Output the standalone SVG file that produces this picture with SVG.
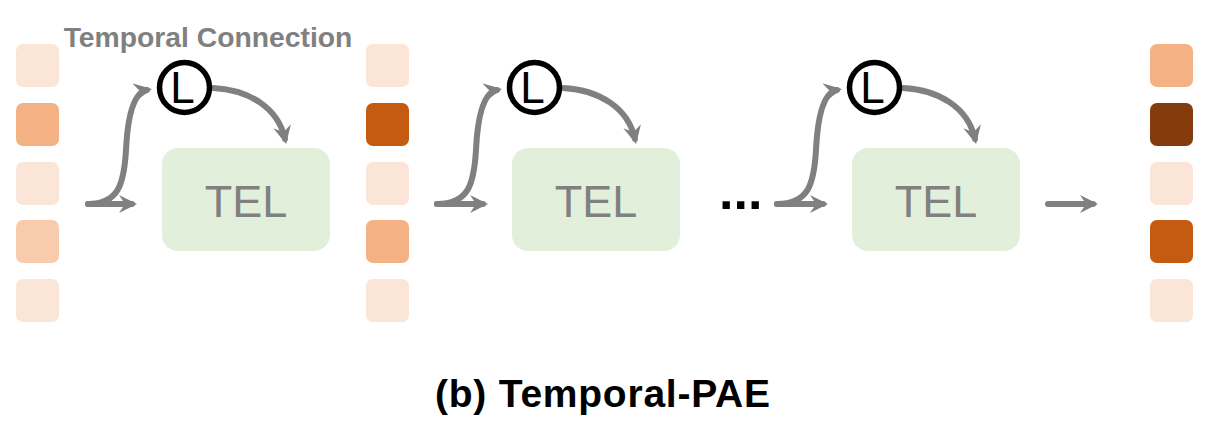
<svg xmlns="http://www.w3.org/2000/svg" width="1208" height="438" viewBox="0 0 1208 438">
<style>
.sq{stroke:none}
.c0{fill:#FBE5D6}.c1{fill:#F8CBAD}.c2{fill:#F4B183}.c3{fill:#C55A11}.c4{fill:#843C0C}
.tel{fill:#E2EFDA}
.tt{font-family:"Liberation Sans",Arial,sans-serif;font-size:45px;fill:#808080;text-anchor:middle}
.ring{fill:#fff;stroke:#000;stroke-width:5.5}
.lt{font-family:"Liberation Sans",Arial,sans-serif;font-size:44px;fill:#000;text-anchor:middle}
.ln{fill:none;stroke:#808080;stroke-width:6;stroke-linecap:round}
</style>
<defs>
<marker id="ah" viewBox="0 0 18 18" refX="13" refY="9" markerWidth="18" markerHeight="18" orient="auto" markerUnits="userSpaceOnUse">
<path d="M0,0 L18,9 L0,18 L6,9 z" fill="#808080"/>
</marker>
</defs>
<rect width="1208" height="438" fill="#fff"/>
<text x="208" y="47" font-family="Liberation Sans,Arial,sans-serif" font-weight="bold" font-size="28.3" fill="#808080" text-anchor="middle">Temporal Connection</text>
<g id="col0">
<rect class="sq c0" x="16" y="44" width="43" height="43" rx="7"/>
<rect class="sq c2" x="16" y="103" width="43" height="43" rx="7"/>
<rect class="sq c0" x="16" y="162" width="43" height="43" rx="7"/>
<rect class="sq c1" x="16" y="220" width="43" height="43" rx="7"/>
<rect class="sq c0" x="16" y="279" width="43" height="43" rx="7"/>
</g>
<g id="col1">
<rect class="sq c0" x="366" y="44" width="43" height="43" rx="7"/>
<rect class="sq c3" x="366" y="103" width="43" height="43" rx="7"/>
<rect class="sq c0" x="366" y="162" width="43" height="43" rx="7"/>
<rect class="sq c2" x="366" y="220" width="43" height="43" rx="7"/>
<rect class="sq c0" x="366" y="279" width="43" height="43" rx="7"/>
</g>
<g id="col2">
<rect class="sq c2" x="1150" y="44" width="43" height="43" rx="7"/>
<rect class="sq c4" x="1150" y="103" width="43" height="43" rx="7"/>
<rect class="sq c0" x="1150" y="162" width="43" height="43" rx="7"/>
<rect class="sq c3" x="1150" y="220" width="43" height="43" rx="7"/>
<rect class="sq c0" x="1150" y="279" width="43" height="43" rx="7"/>
</g>
<g id="connectors">
<path class="ln" d="M88,204 L132,204" marker-end="url(#ah)"/>
<path class="ln" d="M88,204 C118,204 124,185 126,150 C128,108 136,92 147,90" marker-end="url(#ah)"/>
<path class="ln" d="M213,88 C250,90 278,108 285,139" marker-end="url(#ah)"/>
<path class="ln" d="M437,204 L483,204" marker-end="url(#ah)"/>
<path class="ln" d="M437,204 C468,204 474,185 476,150 C478,108 486,92 497,90" marker-end="url(#ah)"/>
<path class="ln" d="M563,88 C600,90 628,108 635,139" marker-end="url(#ah)"/>
<path class="ln" d="M777,204 L823,204" marker-end="url(#ah)"/>
<path class="ln" d="M777,204 C808,204 814,185 816,150 C818,108 826,92 837,90" marker-end="url(#ah)"/>
<path class="ln" d="M903,88 C940,90 968,108 975,139" marker-end="url(#ah)"/>
<path class="ln" d="M1048,204 L1093,204" marker-end="url(#ah)"/>
</g>
<g id="tel1"><rect class="tel" x="162" y="148" width="168" height="103" rx="16"/><text class="tt" x="246" y="217">TEL</text></g>
<g id="tel2"><rect class="tel" x="512" y="148" width="168" height="103" rx="16"/><text class="tt" x="596" y="217">TEL</text></g>
<g id="tel3"><rect class="tel" x="852" y="148" width="168" height="103" rx="16"/><text class="tt" x="936" y="217">TEL</text></g>
<g id="l1"><circle class="ring" cx="184.5" cy="87.5" r="25"/><text class="lt" x="182.5" y="103">L</text></g>
<g id="l2"><circle class="ring" cx="534.5" cy="87.5" r="25"/><text class="lt" x="532.5" y="103">L</text></g>
<g id="l3"><circle class="ring" cx="874.5" cy="87.5" r="25"/><text class="lt" x="872.5" y="103">L</text></g>
<text x="719" y="209" font-family="Liberation Sans,Arial,sans-serif" font-weight="bold" font-size="52" fill="#000">...</text>
<text x="435" y="407" font-family="Liberation Sans,Arial,sans-serif" font-weight="bold" font-size="39" fill="#000" textLength="335" lengthAdjust="spacing">(b) Temporal-PAE</text>
</svg>
